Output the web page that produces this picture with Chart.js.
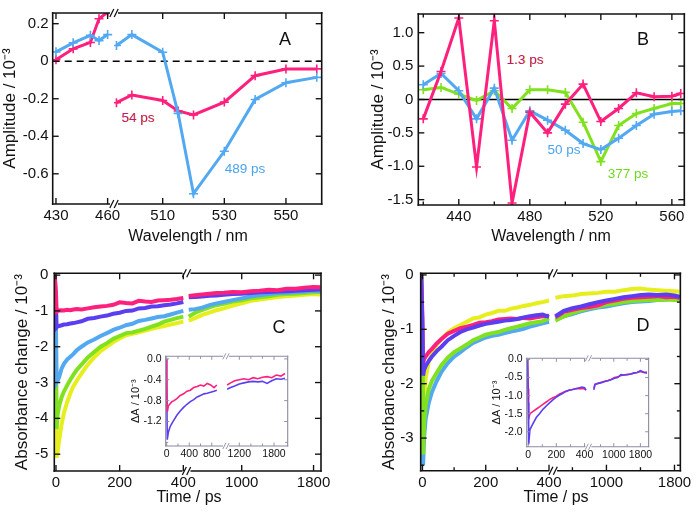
<!DOCTYPE html>
<html>
<head>
<meta charset="utf-8">
<script src="https://cdn.jsdelivr.net/npm/chart.js@4.4.1/dist/chart.umd.min.js"></script>
<style>
  body { margin: 0; background: #fff; font-family: 'Liberation Sans', Arial, sans-serif; }
  #fig { position: relative; width: 697px; height: 512px; overflow: hidden; background: #fff; }
  canvas { position: absolute; }
  .t { position: absolute; transform: translate(-50%, -50%); white-space: nowrap; color: #111; }
  .tag { font-size: 18px; }
  .xt { font-size: 16px; }
  .ann { font-size: 13.5px; }
  .mag { color: #c4157e; text-shadow: 0.6px 0.6px 0 #e6d84a; }
</style>
</head>
<body>
<div id="fig">
  <canvas id="cA" width="350" height="250" style="left:0;top:0"></canvas>
  <canvas id="cB" width="347" height="250" style="left:350px;top:0"></canvas>
  <canvas id="cC" width="350" height="262" style="left:0;top:250px"></canvas>
  <canvas id="cD" width="347" height="262" style="left:350px;top:250px"></canvas>
  <canvas id="cCi" width="170" height="120" style="left:126px;top:346px"></canvas>
  <canvas id="cDi" width="172" height="120" style="left:486px;top:348px"></canvas>

  <div class="t xt" style="left:188px;top:236px">Wavelength / nm</div>
  <div class="t xt" style="left:551px;top:236px">Wavelength / nm</div>
  <div class="t xt" style="left:189px;top:497px">Time / ps</div>
  <div class="t xt" style="left:556px;top:497px">Time / ps</div>

  <div class="t tag" style="left:285px;top:39px">A</div>
  <div class="t tag" style="left:643px;top:39px">B</div>
  <div class="t tag" style="left:279px;top:327px">C</div>
  <div class="t tag" style="left:643px;top:325px">D</div>

  <div class="t ann mag" style="left:138px;top:117px">54 ps</div>
  <div class="t ann" style="left:245px;top:168px;color:#4aa3ef">489 ps</div>
  <div class="t ann mag" style="left:525px;top:59px">1.3 ps</div>
  <div class="t ann" style="left:564px;top:149px;color:#4aa3ef">50 ps</div>
  <div class="t ann" style="left:628px;top:173px;color:#6fd81a">377 ps</div>
</div>

<script>
// ---------------------------------------------------------
// Data
// ---------------------------------------------------------
// Panel A: decay-associated spectra, broken wavelength axis
const aWaveShort = [430, 440, 450, 455, 460];
const aWaveLong = [495, 500, 510, 515, 520, 530, 540, 550, 560];
const a54Short = [0.008, 0.066, 0.1, 0.226, 0.262];
const a54Long = [-0.221, -0.18, -0.209, -0.265, -0.286, -0.218, -0.077, -0.041, -0.041];
const a489Short = [0.05, 0.098, 0.138, 0.11, 0.142];
const a489Long = [0.084, 0.142, 0.048, -0.278, -0.706, -0.48, -0.204, -0.115, -0.086];
const aTicksShort = [430, 460];
const aTicksLong = [510, 530, 550];
const aTicksY = [0.2, 0, -0.2, -0.4, -0.6];

// Panel B
const bWave = [420, 430, 440, 450, 460, 470, 480, 490, 500, 510, 520, 530, 540, 550, 560, 565];
const b13 = [-0.29, 0.42, 1.22, -1.01, 1.18, -1.55, -0.19, -0.5, -0.07, 0.23, -0.33, -0.135, 0.1, 0.04, 0.05, 0.09];
const b50 = [0.22, 0.39, 0.13, -0.29, 0.17, -0.61, -0.17, -0.31, -0.46, -0.66, -0.75, -0.58, -0.39, -0.22, -0.18, -0.17];
const b377 = [0.145, 0.18, 0.08, -0.015, 0.13, -0.135, 0.145, 0.145, 0.106, -0.34, -0.93, -0.39, -0.21, -0.135, -0.06, -0.06];
const bTicksX = [440, 480, 520, 560];
const bMinorX = [420, 460, 500, 540];
const bTicksY = [1, 0.5, 0, -0.5, -1, -1.5];

// Panel C: kinetic traces
const cTimeEarly = [-4, 0, 2, 5, 10, 18, 25, 35, 45, 55, 65, 80, 100, 120, 140, 160, 180, 200, 220, 240, 260, 280, 300, 320, 340, 360, 380, 400];
const cPinkEarly = [0, -0.5, -1.02, -1.0, -0.99, -0.98, -0.99, -0.97, -0.98, -0.96, -0.95, -0.96, -0.93, -0.9, -0.88, -0.86, -0.83, -0.76, -0.78, -0.79, -0.72, -0.74, -0.75, -0.71, -0.7, -0.69, -0.67, -0.64];
const cPurpleEarly = [0, -0.8, -1.46, -1.43, -1.42, -1.4, -1.38, -1.37, -1.35, -1.34, -1.32, -1.29, -1.22, -1.2, -1.16, -1.13, -1.08, -1.05, -1.0, -0.99, -0.93, -0.92, -0.88, -0.87, -0.84, -0.82, -0.79, -0.75];
const cBlueEarly = [0, -1.5, -3.0, -2.95, -2.85, -2.6, -2.48, -2.36, -2.28, -2.2, -2.1, -2.0, -1.88, -1.8, -1.7, -1.62, -1.53, -1.47, -1.4, -1.36, -1.28, -1.25, -1.21, -1.17, -1.15, -1.1, -1.05, -1.0];
const cGreenEarly = [0, -2.0, -4.3, -3.9, -3.65, -3.4, -3.25, -3.08, -2.92, -2.78, -2.65, -2.5, -2.3, -2.15, -2.0, -1.9, -1.78, -1.7, -1.62, -1.6, -1.55, -1.5, -1.44, -1.38, -1.3, -1.25, -1.2, -1.16];
const cYellowEarly = [0, -2.5, -5.1, -4.95, -4.6, -4.15, -3.85, -3.55, -3.3, -3.1, -2.95, -2.75, -2.5, -2.3, -2.12, -2.0, -1.87, -1.77, -1.68, -1.64, -1.6, -1.55, -1.5, -1.46, -1.42, -1.38, -1.34, -1.3];
const cTimeLate = [410, 480, 560, 640, 720, 800, 900, 1000, 1100, 1200, 1300, 1400, 1500, 1600, 1700, 1800, 1875];
const cPinkLate = [-0.58, -0.56, -0.54, -0.52, -0.5, -0.49, -0.47, -0.48, -0.45, -0.44, -0.41, -0.42, -0.38, -0.38, -0.35, -0.33, -0.34];
const cPurpleLate = [-0.62, -0.61, -0.6, -0.58, -0.57, -0.55, -0.53, -0.52, -0.5, -0.48, -0.47, -0.46, -0.45, -0.44, -0.42, -0.41, -0.4];
const cBlueLate = [-0.97, -0.95, -0.91, -0.84, -0.79, -0.75, -0.7, -0.65, -0.6, -0.56, -0.53, -0.5, -0.49, -0.47, -0.46, -0.44, -0.45];
const cGreenLate = [-1.16, -1.05, -0.97, -0.9, -0.84, -0.8, -0.74, -0.7, -0.65, -0.62, -0.59, -0.55, -0.53, -0.52, -0.5, -0.48, -0.47];
const cYellowLate = [-1.27, -1.2, -1.11, -1.05, -0.98, -0.93, -0.85, -0.79, -0.72, -0.68, -0.65, -0.61, -0.59, -0.57, -0.55, -0.53, -0.54];

// Panel D
const dTimeEarly = [-4, 0, 2, 5, 10, 20, 30, 45, 60, 80, 100, 120, 140, 160, 180, 200, 220, 240, 260, 280, 300, 320, 340, 360, 380, 400];
const dYellowEarly = [0, -1.5, -2.9, -2.4, -1.9, -1.6, -1.45, -1.28, -1.18, -1.06, -0.98, -0.92, -0.86, -0.8, -0.78, -0.73, -0.7, -0.66, -0.66, -0.62, -0.6, -0.57, -0.55, -0.52, -0.5, -0.47];
const dPinkEarly = [0, -0.8, -1.65, -1.55, -1.5, -1.42, -1.36, -1.26, -1.18, -1.08, -1.03, -0.98, -0.95, -0.92, -0.88, -0.87, -0.85, -0.82, -0.81, -0.8, -0.81, -0.79, -0.8, -0.78, -0.76, -0.75];
const dPurpleEarly = [0, -1.0, -1.85, -1.75, -1.68, -1.58, -1.5, -1.4, -1.32, -1.2, -1.12, -1.05, -1.0, -0.97, -0.93, -0.9, -0.88, -0.86, -0.84, -0.83, -0.81, -0.78, -0.76, -0.74, -0.73, -0.77];
const dGreenEarly = [0, -1.8, -3.3, -2.75, -2.4, -2.1, -1.95, -1.8, -1.66, -1.52, -1.42, -1.35, -1.28, -1.2, -1.15, -1.1, -1.07, -1.05, -1.01, -0.98, -0.95, -0.92, -0.89, -0.87, -0.85, -0.8];
const dBlueEarly = [0, -2.0, -3.5, -3.0, -2.65, -2.35, -2.15, -1.95, -1.78, -1.62, -1.5, -1.42, -1.33, -1.25, -1.2, -1.15, -1.12, -1.1, -1.07, -1.04, -1.02, -0.99, -0.95, -0.92, -0.89, -0.86];
const dTimeLate = [400, 500, 600, 700, 800, 900, 1000, 1100, 1200, 1300, 1400, 1500, 1600, 1700, 1800, 1860];
const dYellowLate = [-0.42, -0.39, -0.38, -0.35, -0.34, -0.33, -0.31, -0.31, -0.28, -0.26, -0.25, -0.27, -0.28, -0.29, -0.3, -0.31];
const dPinkLate = [-0.78, -0.68, -0.64, -0.61, -0.59, -0.56, -0.5, -0.47, -0.44, -0.42, -0.41, -0.4, -0.39, -0.41, -0.4, -0.42];
const dPurpleLate = [-0.76, -0.66, -0.61, -0.58, -0.54, -0.5, -0.47, -0.44, -0.41, -0.39, -0.37, -0.36, -0.37, -0.36, -0.38, -0.4];
const dGreenLate = [-0.84, -0.76, -0.7, -0.65, -0.61, -0.58, -0.55, -0.53, -0.5, -0.48, -0.47, -0.46, -0.46, -0.45, -0.46, -0.45];
const dBlueLate = [-0.82, -0.76, -0.72, -0.67, -0.63, -0.6, -0.58, -0.55, -0.52, -0.5, -0.49, -0.48, -0.46, -0.45, -0.43, -0.43];

// Inset of C
const ciTimeEarly = [-10, 0, 10, 30, 60, 90, 130, 180, 240, 300, 360, 420, 480, 540, 600, 660, 720, 780, 840, 890];
const ciPinkEarly = [0, -0.3, -1.02, -0.9, -0.86, -0.82, -0.8, -0.76, -0.7, -0.67, -0.62, -0.6, -0.55, -0.53, -0.5, -0.52, -0.47, -0.5, -0.55, -0.5];
const ciPurpleEarly = [0, -0.5, -1.55, -1.4, -1.3, -1.24, -1.17, -1.08, -1.0, -0.93, -0.87, -0.82, -0.78, -0.73, -0.7, -0.67, -0.66, -0.64, -0.62, -0.6];
const ciTimeLate = [990, 1050, 1120, 1200, 1280, 1360, 1440, 1520, 1600, 1680, 1760, 1840, 1920, 1990];
const ciPinkLate = [-0.5, -0.46, -0.42, -0.4, -0.38, -0.4, -0.36, -0.38, -0.35, -0.34, -0.36, -0.31, -0.33, -0.28];
const ciPurpleLate = [-0.58, -0.55, -0.52, -0.48, -0.46, -0.44, -0.43, -0.44, -0.43, -0.47, -0.42, -0.38, -0.39, -0.37];

// Inset of D
const diTimeEarly = [-5, 0, 3, 12, 30, 58, 80, 104, 130, 151, 175, 197, 220, 243, 265, 290, 315, 336, 360, 382, 400, 410];
const diPinkEarly = [0, -0.8, -1.63, -1.5, -1.45, -1.37, -1.31, -1.24, -1.17, -1.11, -1.06, -1.02, -0.96, -0.92, -0.88, -0.85, -0.83, -0.81, -0.8, -0.81, -0.8, -0.85];
const diPurpleEarly = [0, -1.2, -2.35, -1.94, -1.8, -1.6, -1.5, -1.38, -1.28, -1.2, -1.12, -1.05, -0.99, -0.94, -0.89, -0.85, -0.83, -0.81, -0.79, -0.76, -0.78, -0.85];
const diTimeLate = [400, 434, 530, 629, 730, 824, 920, 1020, 1120, 1214, 1310, 1411, 1510, 1607, 1700, 1801, 1900, 1997];
const diPinkLate = [-0.8, -0.68, -0.66, -0.63, -0.6, -0.58, -0.55, -0.5, -0.48, -0.44, -0.43, -0.41, -0.4, -0.38, -0.36, -0.33, -0.36, -0.35];
const diPurpleLate = [-0.84, -0.7, -0.66, -0.64, -0.61, -0.59, -0.56, -0.52, -0.5, -0.42, -0.43, -0.42, -0.4, -0.37, -0.36, -0.31, -0.35, -0.38];

// ---------------------------------------------------------
// Style
// ---------------------------------------------------------
const FONT = "'Liberation Sans', Arial, sans-serif";
const PINK = '#ff1f7c';
const BLUE = '#52a9f1';
const GREEN = '#80e21e';
const YELLOW = '#e6ef1c';
const PURPLE = '#5b3ef0';
const AMP = 'Amplitude / 10\u207B\u00B3';
const ABS = 'Absorbance change / 10\u207B\u00B3';
const DA = '\u0394A / 10\u207B\u00B3';

const fixed1 = v => v === 0 ? '0' : v.toFixed(1);
const plain = v => String(v);

// frame with inward ticks and axis breaks, zero reference line under the data
const framePlugin = {
  id: 'frame',
  beforeDatasetsDraw(chart, args, o) {
    if (!o.zero) return;
    const { ctx, chartArea: a } = chart;
    const py = chart.scales.y.getPixelForValue(0);
    ctx.save();
    ctx.strokeStyle = '#000';
    ctx.lineWidth = 1.5;
    ctx.setLineDash(o.zero === 'dash' ? [7, 5] : []);
    ctx.beginPath();
    ctx.moveTo(a.left, py);
    ctx.lineTo(a.right, py);
    ctx.stroke();
    ctx.restore();
  },
  afterDatasetsDraw(chart, args, o) {
    const { ctx, chartArea: a } = chart;
    const xs = Object.keys(chart.scales).filter(k => k[0] === 'x').map(k => chart.scales[k]);
    const ys = chart.scales.y;
    const h = o.lw / 2;
    const seg = (x1, y1, x2, y2) => { ctx.beginPath(); ctx.moveTo(x1, y1); ctx.lineTo(x2, y2); ctx.stroke(); };
    ctx.save();
    ctx.strokeStyle = o.color;
    ctx.lineWidth = o.lw;
    seg(a.left, a.top - h, a.left, a.bottom + h);
    seg(a.right, a.top - h, a.right, a.bottom + h);
    xs.forEach((s, i) => {
      const l = i ? s.left + o.gap : a.left - h;
      const r = i < xs.length - 1 ? s.right - o.gap : a.right + h;
      seg(l, a.top, r, a.top);
      seg(l, a.bottom, r, a.bottom);
      if (i < xs.length - 1) {
        ctx.save();
        ctx.lineWidth = o.lw * 0.8;
        [a.top, a.bottom].forEach(e => {
          [-o.gap * 0.55, o.gap * 0.55].forEach(dx => {
            seg(s.right + dx - o.slash * 0.5, e + o.slash, s.right + dx + o.slash * 0.5, e - o.slash);
          });
        });
        ctx.restore();
      }
      ctx.lineWidth = o.lw * 0.85;
      s.ticks.forEach(t => {
        const px = s.getPixelForValue(t.value);
        const L = t.label === '' ? o.minor : o.major;
        seg(px, a.bottom, px, a.bottom - L);
        seg(px, a.top, px, a.top + L);
      });
      ctx.lineWidth = o.lw;
    });
    ctx.lineWidth = o.lw * 0.85;
    ys.ticks.forEach(t => {
      const py = ys.getPixelForValue(t.value);
      const L = t.label === '' ? o.minor : o.major;
      seg(a.left, py, a.left + L, py);
      seg(a.right, py, a.right - L, py);
    });
    ctx.restore();
  }
};

function trace(xs, ys, color, axis, width, marker) {
  return {
    data: xs.map((x, i) => ({ x, y: ys[i] })),
    xAxisID: axis,
    yAxisID: 'y',
    borderColor: color,
    backgroundColor: color,
    borderWidth: width,
    tension: 0,
    fill: false,
    pointStyle: 'cross',
    pointRadius: marker ? 4.5 : 0,
    pointHoverRadius: 0,
    pointBorderColor: color,
    pointBorderWidth: marker ? 1.6 : 0,
  };
}

function tickList(major, minor) {
  return s => { s.ticks = major.concat(minor || []).sort((p, q) => p - q).map(v => ({ value: v })); };
}

function panel(id, cfg) {
  const scales = {};
  const font = { family: FONT, size: cfg.fs };
  cfg.x.forEach((ax, i) => {
    scales['x' + i] = {
      type: 'linear',
      position: 'bottom',
      stack: 'bottom',
      stackWeight: ax.w,
      min: ax.min,
      max: ax.max,
      grid: { display: false, drawTicks: false },
      border: { display: false },
      afterBuildTicks: tickList(ax.major, ax.minor),
      afterFit: s => { s.height = cfg.xh; },
      ticks: {
        autoSkip: false, maxRotation: 0, minRotation: 0,
        padding: cfg.xpad, color: '#111', font,
        callback: v => ax.major.includes(v) ? plain(v) : '',
      },
    };
  });
  const y = cfg.y;
  scales.y = {
    type: 'linear',
    position: 'left',
    min: y.min,
    max: y.max,
    grid: { display: false, drawTicks: false },
    border: { display: false },
    afterBuildTicks: tickList(y.major, y.minor),
    afterFit: s => { s.width = y.w; },
    ticks: {
      padding: y.pad, color: '#111', font,
      callback: v => y.major.includes(v) ? y.fmt(v) : '',
    },
    title: {
      display: true, text: y.title, color: '#111', align: y.align,
      font: { family: FONT, size: y.tfs || cfg.fs },
      padding: { top: y.tpad, bottom: 0 },
    },
  };
  return new Chart(document.getElementById(id), {
    type: 'line',
    data: { datasets: cfg.sets },
    options: {
      responsive: false,
      animation: false,
      devicePixelRatio: 1,
      layout: { padding: { left: 0, top: cfg.pad.top, right: cfg.pad.right, bottom: 0 } },
      scales,
      plugins: {
        legend: { display: false },
        tooltip: { enabled: false },
        frame: cfg.frame,
      },
    },
    plugins: [framePlugin],
  });
}

const MAIN_FRAME = { color: '#111', lw: 1.6, major: 6, minor: 3.5, gap: 4, slash: 4 };
const INSET_FRAME = { color: '#8a8aa2', lw: 1.1, major: 3.5, minor: 2.5, gap: 3, slash: 3 };

// ---------------------------------------------------------
// Panels
// ---------------------------------------------------------
panel('cA', {
  fs: 15, xh: 46, xpad: 3, pad: { top: 6, right: 28.3 },
  x: [
    { min: 428.1, max: 463.7, w: 61.3, major: aTicksShort },
    { min: 494.2, max: 561.6, w: 207.7, major: aTicksLong },
  ],
  y: { min: -0.761, max: 0.257, major: aTicksY, fmt: plain, w: 52.7, pad: 4, title: AMP, tfs: 17, tpad: 0, align: 'center' },
  frame: Object.assign({ zero: 'dash' }, MAIN_FRAME),
  sets: [
    trace(aWaveShort, a489Short, BLUE, 'x0', 3, true),
    trace(aWaveLong, a489Long, BLUE, 'x1', 3, true),
    trace(aWaveShort, a54Short, PINK, 'x0', 3, true),
    trace(aWaveLong, a54Long, PINK, 'x1', 3, true),
  ],
});

panel('cB', {
  fs: 15, xh: 45, xpad: 3, pad: { top: 6.7, right: 12.7 },
  x: [{ min: 417.2, max: 567, w: 1, major: bTicksX, minor: bMinorX }],
  y: { min: -1.58, max: 1.28, major: bTicksY, fmt: fixed1, w: 68.3, pad: 5, title: AMP, tfs: 17, tpad: 18, align: 'center' },
  frame: Object.assign({ zero: 'solid' }, MAIN_FRAME),
  sets: [
    trace(bWave, b13, PINK, 'x0', 3, true),
    trace(bWave, b50, BLUE, 'x0', 3, true),
    trace(bWave, b377, GREEN, 'x0', 3, true),
  ],
});

panel('cC', {
  fs: 15, xh: 41, xpad: 3, pad: { top: 23.3, right: 29 },
  x: [
    { min: -5.3, max: 410, w: 132.2, major: [0, 200, 400] },
    { min: 385, max: 1883, w: 134.5, major: [1000, 1800] },
  ],
  y: { min: -5.47, max: 0.05, major: [0, -1, -2, -3, -4, -5], fmt: plain, w: 54.3, pad: 6, title: ABS, tfs: 17, tpad: 12.5, align: 'center' },
  frame: MAIN_FRAME,
  sets: [
    trace(cTimeEarly, cPinkEarly, PINK, 'x0', 4),
    trace(cTimeLate, cPinkLate, PINK, 'x1', 4),
    trace(cTimeEarly, cPurpleEarly, PURPLE, 'x0', 4),
    trace(cTimeLate, cPurpleLate, PURPLE, 'x1', 4),
    trace(cTimeEarly, cBlueEarly, BLUE, 'x0', 4),
    trace(cTimeLate, cBlueLate, BLUE, 'x1', 4),
    trace(cTimeEarly, cGreenEarly, GREEN, 'x0', 4),
    trace(cTimeLate, cGreenLate, GREEN, 'x1', 4),
    trace(cTimeEarly, cYellowEarly, YELLOW, 'x0', 4),
    trace(cTimeLate, cYellowLate, YELLOW, 'x1', 4),
  ],
});

panel('cD', {
  fs: 15, xh: 41.3, xpad: 3, pad: { top: 23.3, right: 11 },
  x: [
    { min: -5.6, max: 413, w: 135.3, major: [0, 200, 400], minor: [100, 300] },
    { min: 373, max: 1869, w: 130, major: [1000, 1800], minor: [600, 1400] },
  ],
  y: { min: -3.6, max: 0.03, major: [0, -1, -2, -3], minor: [-0.5, -1.5, -2.5, -3.5], fmt: plain, w: 70.7, pad: 7, title: ABS, tfs: 17, tpad: 29, align: 'center' },
  frame: MAIN_FRAME,
  sets: [
    trace(dTimeEarly, dPurpleEarly, PURPLE, 'x0', 4),
    trace(dTimeLate, dPurpleLate, PURPLE, 'x1', 4),
    trace(dTimeEarly, dPinkEarly, PINK, 'x0', 4),
    trace(dTimeLate, dPinkLate, PINK, 'x1', 4),
    trace(dTimeEarly, dGreenEarly, GREEN, 'x0', 4),
    trace(dTimeLate, dGreenLate, GREEN, 'x1', 4),
    trace(dTimeEarly, dBlueEarly, BLUE, 'x0', 4),
    trace(dTimeLate, dBlueLate, BLUE, 'x1', 4),
    trace(dTimeEarly, dYellowEarly, YELLOW, 'x0', 4),
    trace(dTimeLate, dYellowLate, YELLOW, 'x1', 4),
  ],
});

panel('cCi', {
  fs: 10.5, xh: 20, xpad: 2, pad: { top: 4, right: 8.3 },
  x: [
    { min: -17.8, max: 1053, w: 60.3, major: [0, 400, 800], minor: [200, 600] },
    { min: 970, max: 2037, w: 61.7, major: [1200, 1800], minor: [1400, 1600] },
  ],
  y: { min: -1.67, max: 0.05, major: [0, -0.4, -0.8, -1.2], minor: [-1.6], fmt: v => v.toFixed(1), w: 39.7, pad: 4, title: DA, tfs: 11, tpad: 3.4, align: 'center' },
  frame: INSET_FRAME,
  sets: [
    trace(ciTimeEarly, ciPinkEarly, PINK, 'x0', 1.6),
    trace(ciTimeLate, ciPinkLate, PINK, 'x1', 1.6),
    trace(ciTimeEarly, ciPurpleEarly, PURPLE, 'x0', 1.6),
    trace(ciTimeLate, ciPurpleLate, PURPLE, 'x1', 1.6),
  ],
});

panel('cDi', {
  fs: 10.5, xh: 21.3, xpad: 2, pad: { top: 4.7, right: 6.3 },
  x: [
    { min: -11, max: 428, w: 63.3, major: [0, 200, 400], minor: [100, 300] },
    { min: 238, max: 2047, w: 61.7, major: [1000, 1800], minor: [600, 1400] },
  ],
  y: { min: -2.414, max: 0.034, major: [0, -0.5, -1, -1.5, -2], fmt: v => v.toFixed(1), w: 40.7, pad: 4, title: DA, tfs: 11, tpad: 4, align: 'center' },
  frame: INSET_FRAME,
  sets: [
    trace(diTimeEarly, diPurpleEarly, PURPLE, 'x0', 1.6),
    trace(diTimeLate, diPurpleLate, PURPLE, 'x1', 1.6),
    trace(diTimeEarly, diPinkEarly, PINK, 'x0', 1.6),
    trace(diTimeLate, diPinkLate, PINK, 'x1', 1.6),
  ],
});
</script>
</body>
</html>
